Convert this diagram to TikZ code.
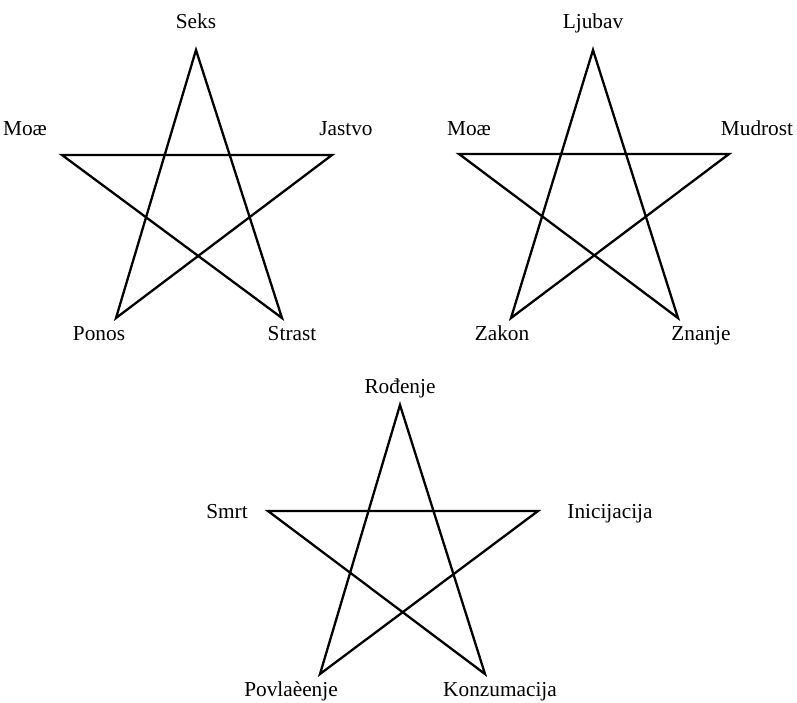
\documentclass[tikz,border=0pt]{standalone}
\usepackage{fontspec}
\setmainfont{Liberation Serif}
\begin{document}
\begin{tikzpicture}[x=1pt,y=-1pt,
  lbl/.style={inner sep=0pt,anchor=base,font=\fontsize{21.3}{25}\selectfont},
  starline/.style={line width=2.3pt,line join=miter}]
\useasboundingbox (0,0) rectangle (797,702);
% Star 1
\coordinate (a1) at (196,50);
\coordinate (b1) at (62,155);
\coordinate (c1) at (332,155);
\coordinate (d1) at (116,318);
\coordinate (e1) at (282,318);
\draw[starline] (a1) -- (d1) -- (c1) -- (b1) -- (e1) -- cycle;
\node[lbl] (s1) at (196,28) {Seks};
\node[lbl] (m1) at (25,135) {Moæ};
\node[lbl] (j1) at (346,135) {Jastvo};
\node[lbl] (p1) at (99,340) {Ponos};
\node[lbl] (t1) at (292,340) {Strast};
% Star 2
\coordinate (a2) at (593,50);
\coordinate (b2) at (459,154);
\coordinate (c2) at (729,154);
\coordinate (d2) at (511,318);
\coordinate (e2) at (678,318);
\draw[starline] (a2) -- (d2) -- (c2) -- (b2) -- (e2) -- cycle;
\node[lbl] (l2) at (593,28) {Ljubav};
\node[lbl] (m2) at (469,135) {Moæ};
\node[lbl] (u2) at (757,135) {Mudrost};
\node[lbl] (z2) at (502,340) {Zakon};
\node[lbl] (n2) at (701,340) {Znanje};
% Star 3
\coordinate (a3) at (400,405);
\coordinate (b3) at (268,511);
\coordinate (c3) at (538,511);
\coordinate (d3) at (320,674);
\coordinate (e3) at (485,674);
\draw[starline] (a3) -- (d3) -- (c3) -- (b3) -- (e3) -- cycle;
\node[lbl] (r3) at (400,393) {Rođenje};
\node[lbl] (s3) at (227,518) {Smrt};
\node[lbl] (i3) at (610,518) {Inicijacija};
\node[lbl] (p3) at (291,696) {Povlaèenje};
\node[lbl] (k3) at (500,696) {Konzumacija};
\end{tikzpicture}
\end{document}
